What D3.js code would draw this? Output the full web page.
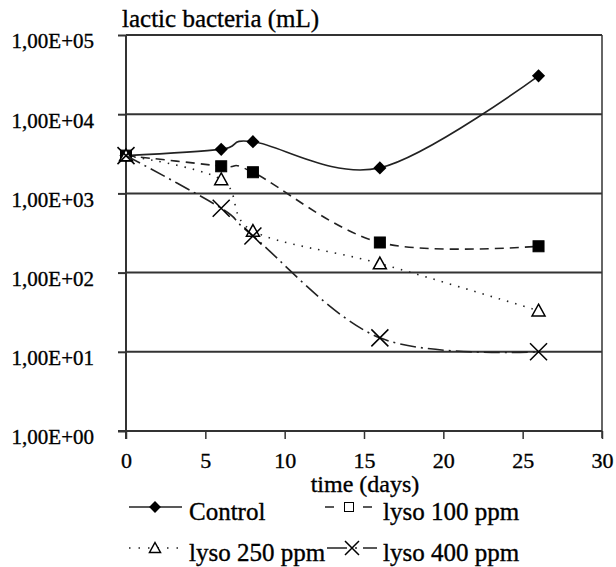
<!DOCTYPE html>
<html>
<head>
<meta charset="utf-8">
<script src="https://cdn.jsdelivr.net/npm/d3@7"></script>
<style>
  body { margin: 0; background: #fff; }
</style>
</head>
<body>
<div id="chart"></div>
<script>
// data
const days = [0, 6, 8, 16, 26];
const control = [3000, 3600, 4500, 2100, 30500];
const lyso100 = [3000, 2200, 1850, 240, 215];
const lyso250 = [3000, 1500, 335, 130, 33];
const lyso400 = [3000, 650, 290, 15, 10];
const seriesNames = ["Control", "lyso 100 ppm", "lyso 250 ppm", "lyso 400 ppm"];
const yTicks = [1, 10, 100, 1000, 10000, 100000];
const yTickLabels = ["1,00E+00", "1,00E+01", "1,00E+02", "1,00E+03", "1,00E+04", "1,00E+05"];
const xTicks = [0, 5, 10, 15, 20, 25, 30];

const FONT = "Liberation Serif";
const W = 616, H = 567;
const plotLeft = 126, plotRight = 602, plotTop = 35, plotBottom = 431;

let svg = d3.select("#chart").append("svg")
    .attr("width", W)
    .attr("height", H);

let x = d3.scaleLinear().domain([0, 30]).range([plotLeft, plotRight]);
let y = d3.scaleLog().domain([1, 100000]).range([plotBottom, plotTop]);

// serif text, a little heavier like the original
let textStyle = function(sel, size) {
    sel.style("font-family", FONT)
        .style("font-size", size + "px")
        .style("fill", "#000")
        .style("stroke", "#000")
        .style("stroke-width", 0.35);
};

// gridlines
svg.append("g").selectAll("line")
    .data(yTicks.slice(1))
    .join("line")
    .attr("x1", plotLeft).attr("x2", plotRight)
    .attr("y1", d => y(d)).attr("y2", d => y(d))
    .attr("stroke", "#333").attr("stroke-width", 2);

// right border
svg.append("line")
    .attr("x1", plotRight).attr("x2", plotRight)
    .attr("y1", plotTop).attr("y2", plotBottom + 7)
    .attr("stroke", "#333").attr("stroke-width", 1.5);

// y axis
let yAxis = svg.append("g")
    .attr("transform", `translate(${plotLeft},0)`)
    .call(d3.axisLeft(y).tickValues(yTicks).tickSize(8).tickPadding(24)
        .tickFormat((d, i) => yTickLabels[i]));
yAxis.select(".domain").attr("stroke", "#333").attr("stroke-width", 2)
    .attr("d", `M0,${plotTop}V${plotBottom + 8}`);
yAxis.selectAll(".tick line").attr("stroke", "#333").attr("stroke-width", 2);
yAxis.selectAll("text")
    .attr("dy", "0.95em")
    .attr("y", -7)
    .call(textStyle, 21);

// x axis
let xAxis = svg.append("g")
    .attr("transform", `translate(0,${plotBottom})`)
    .call(d3.axisBottom(x).tickValues(xTicks).tickSize(8).tickPadding(13));
xAxis.select(".domain").attr("stroke", "#333").attr("stroke-width", 2)
    .attr("d", `M${plotLeft - 8},0H${plotRight}`);
xAxis.selectAll(".tick line").attr("stroke", "#333").attr("stroke-width", 1.5);
xAxis.selectAll("text").call(textStyle, 22);

// titles
svg.append("text")
    .attr("x", 122).attr("y", 27)
    .text("lactic bacteria (mL)")
    .call(textStyle, 25);

svg.append("text")
    .attr("x", 365).attr("y", 492)
    .attr("text-anchor", "middle")
    .text("time (days)")
    .call(textStyle, 24);

// series
let allSeries = [control, lyso100, lyso250, lyso400];
let dashes = [null, "9,6", "1.5,7", "16,5,2,5"];
let markers = ["diamond", "square", "triangle", "cross"];

let line = d3.line()
    .x(d => x(d[0]))
    .y(d => y(d[1]))
    .curve(d3.curveCardinal.tension(0));

let drawMarker = function(g, type, cx, cy, legend) {
    if (type == "diamond") {
        g.append("path")
            .attr("d", d3.symbol(d3.symbolDiamond2, legend ? 90 : 110)())
            .attr("transform", `translate(${cx},${cy})`)
            .attr("fill", "#000");
    } else if (type == "square") {
        let s = legend ? 9 : 11;
        g.append("rect")
            .attr("x", cx - s / 2).attr("y", cy - s / 2)
            .attr("width", s).attr("height", s)
            .attr("fill", legend ? "#fff" : "#000")
            .attr("stroke", "#000").attr("stroke-width", 1);
    } else if (type == "triangle") {
        let s = legend ? 5.5 : 6.5;
        g.append("path")
            .attr("d", `M${cx},${cy - s}L${cx + s},${cy + s * 0.8}L${cx - s},${cy + s * 0.8}Z`)
            .attr("fill", "#fff")
            .attr("stroke", "#000").attr("stroke-width", 1.5);
    } else {
        let s = legend ? 7 : 8.5;
        g.append("path")
            .attr("d", `M${cx - s},${cy - s}L${cx + s},${cy + s}M${cx - s},${cy + s}L${cx + s},${cy - s}`)
            .attr("stroke", "#000").attr("stroke-width", 1.5);
    }
};

allSeries.forEach((vals, k) => {
    let pts = days.map((d, i) => [d, vals[i]]);
    let g = svg.append("g");
    g.append("path")
        .attr("d", line(pts))
        .attr("fill", "none")
        .attr("stroke", "#222")
        .attr("stroke-width", 1.6)
        .attr("stroke-dasharray", dashes[k]);
    pts.forEach(p => drawMarker(g, markers[k], x(p[0]), y(p[1]), false));
});

// legend
let legendPos = [[129, 507], [325, 507], [129, 548], [327, 548]];
let legendMark = [155, 349, 155, 352];
let legendLineEnd = [182, 377, 180, 377];
let legendText = [189, 383, 189, 383];
let legendDash = [null, "9,10", "1.5,8", "20,8,2,6"];
seriesNames.forEach((name, k) => {
    let [lx, ly] = legendPos[k];
    let g = svg.append("g");
    g.append("line")
        .attr("x1", lx).attr("x2", legendLineEnd[k])
        .attr("y1", ly).attr("y2", ly)
        .attr("stroke", "#222").attr("stroke-width", 1.6)
        .attr("stroke-dasharray", legendDash[k]);
    drawMarker(g, markers[k], legendMark[k], ly, true);
    g.append("text")
        .attr("x", legendText[k]).attr("y", ly + 13)
        .text(name)
        .call(textStyle, 25);
});
</script>
</body>
</html>
